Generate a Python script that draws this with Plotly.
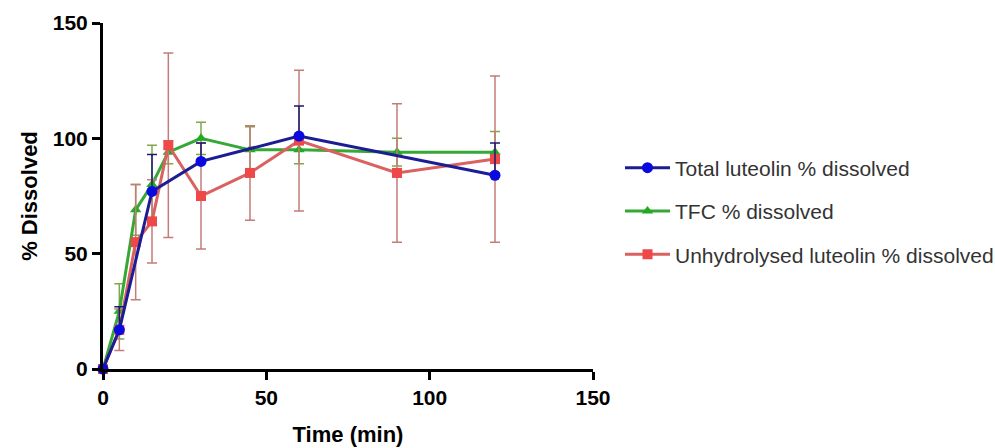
import plotly.graph_objects as go

# Time points (min)
t_total = [0, 5, 15, 30, 60, 120]
total = [0, 17, 77, 90, 101, 84]
total_err = [0, 10, 16, 8, 13, 14]

t_tfc = [0, 5, 10, 15, 20, 30, 45, 60, 90, 120]
tfc = [0, 25, 69, 80, 94, 100, 95, 95, 94, 94]
tfc_err = [0, 12, 11, 17, 5, 7, 10, 6, 6, 9]

t_unh = [0, 5, 10, 15, 20, 30, 45, 60, 90, 120]
unh = [0, 17, 55, 64, 97, 75, 85, 99, 85, 91]
unh_err = [0, 9, 25, 18, 40, 23, 20.5, 30.5, 30, 36]

x_ticks = [0, 50, 100, 150]
y_ticks = [0, 50, 100, 150]

FONT = "Liberation Sans, Arial, sans-serif"

fig = go.Figure()

fig.add_trace(go.Scatter(
    x=t_tfc, y=tfc, name="TFC % dissolved", mode="lines+markers",
    line=dict(color="#35A835", width=3),
    marker=dict(symbol="triangle-up", size=10, color="#22AA22"),
    error_y=dict(type="data", array=tfc_err, color="#7FA84A", thickness=1.5, width=5),
    legendrank=2, legendgroup="b", cliponaxis=False,
))
fig.add_trace(go.Scatter(
    x=t_unh, y=unh, name="Unhydrolysed luteolin % dissolved", mode="lines+markers",
    line=dict(color="#D9615F", width=3),
    marker=dict(symbol="square", size=10, color="#EE4848"),
    error_y=dict(type="data", array=unh_err, color="#C47C78", thickness=1.5, width=5),
    legendrank=3, legendgroup="c", cliponaxis=False,
))
fig.add_trace(go.Scatter(
    x=t_total, y=total, name="Total luteolin % dissolved", mode="lines+markers",
    line=dict(color="#1C1C94", width=3),
    marker=dict(symbol="circle", size=11, color="#0A0AE0"),
    error_y=dict(type="data", symmetric=False, array=total_err,
                 arrayminus=[0] * len(total_err),
                 color="#1A1A70", thickness=1.5, width=5),
    legendrank=1, legendgroup="a", cliponaxis=False,
))

axis_common = dict(
    showline=True, linecolor="black", linewidth=3,
    ticks="outside", ticklen=8, tickwidth=3, tickcolor="black",
    showgrid=False, zeroline=False, automargin=False,
    tickfont=dict(family=FONT, size=21, color="black", weight="bold"),
)

fig.update_xaxes(
    range=[0, 150], tickvals=x_ticks,
    title=dict(text="Time (min)", font=dict(family=FONT, size=22, color="black", weight="bold"), standoff=19),
    **axis_common,
)
fig.update_yaxes(
    range=[0, 150], tickvals=y_ticks,
    title=dict(text="% Dissolved", font=dict(family=FONT, size=22, color="black", weight="bold"), standoff=10),
    **axis_common,
)

fig.update_layout(
    width=995, height=448,
    margin=dict(l=103, r=402, t=23, b=79, autoexpand=False),
    paper_bgcolor="white", plot_bgcolor="white",
    font=dict(family=FONT),
    legend=dict(
        x=(620 - 103) / 490, y=0.64, xanchor="left", yanchor="top",
        font=dict(family=FONT, size=21, color="#333333"),
        itemwidth=45,
        tracegroupgap=13, bgcolor="rgba(0,0,0,0)",
    ),
)

fig.write_html("out.html")
